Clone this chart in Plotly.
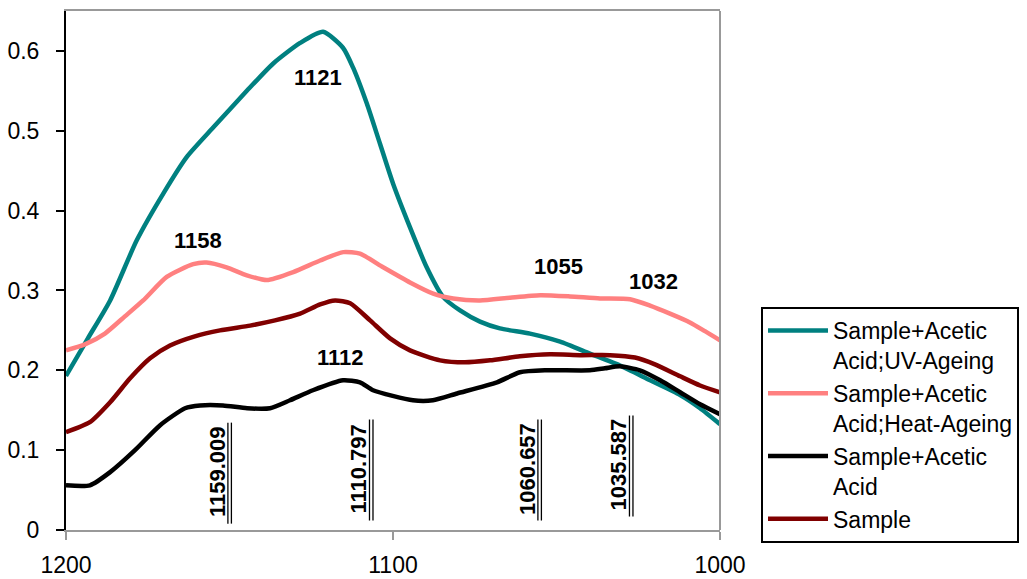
import plotly.graph_objects as go

# ---- data (wavenumber, absorbance) ----
uv_wn = [1200, 1193.3, 1186.5, 1178.4, 1170.3, 1163.1, 1155.0, 1144.7, 1136.7, 1128.4, 1121.4,
         1115.3, 1112.2, 1108.0, 1104.0, 1100.0, 1094.8, 1089.7, 1084.7, 1079.5, 1073.4, 1067.3,
         1058.1, 1048.9, 1039.8, 1030.6, 1021.4, 1012.2, 1006.1, 1000]
uv_abs = [0.193, 0.240, 0.2875, 0.3625, 0.421, 0.467, 0.504, 0.550, 0.584, 0.610, 0.624,
          0.604, 0.579, 0.534, 0.484, 0.434, 0.379, 0.329, 0.292, 0.275, 0.261, 0.2525,
          0.246, 0.236, 0.221, 0.206, 0.1875, 0.169, 0.1525, 0.1325]

heat_wn = [1200, 1194.2, 1188.1, 1182.0, 1176.4, 1169.2, 1161.1, 1157.0, 1150.9, 1144.7, 1138.6,
           1130.5, 1122.3, 1115.2, 1110.1, 1103.0, 1094.8, 1087.7, 1081.6, 1073.4, 1064.2, 1055.0,
           1045.9, 1036.7, 1027.5, 1021.4, 1015.3, 1009.2, 1004.6, 1000]
heat_abs = [0.225, 0.2325, 0.246, 0.2675, 0.2875, 0.317, 0.333, 0.335, 0.329, 0.319, 0.313,
            0.323, 0.3375, 0.348, 0.346, 0.329, 0.310, 0.296, 0.290, 0.2875, 0.291, 0.294,
            0.2925, 0.290, 0.289, 0.281, 0.271, 0.260, 0.249, 0.2375]

acid_wn = [1200, 1192.7, 1186.5, 1178.9, 1171.3, 1163.6, 1159.0, 1152.0, 1144.6, 1137.6, 1131.5,
           1124.5, 1115.3, 1110.1, 1106.1, 1093.9, 1087.8, 1080.4, 1068.2, 1061.2, 1053.5, 1039.8,
           1035.2, 1030.6, 1024.5, 1018.3, 1012.2, 1006.1, 1000]
acid_abs = [0.056, 0.056, 0.0725, 0.100, 0.131, 0.1525, 0.156, 0.156, 0.1525, 0.1525, 0.1625,
            0.175, 0.1875, 0.185, 0.175, 0.1625, 0.1625, 0.171, 0.185, 0.1975, 0.200, 0.200,
            0.2025, 0.205, 0.200, 0.1875, 0.1725, 0.1575, 0.145]

sample_wn = [1200, 1192.7, 1186.5, 1180.4, 1174.3, 1168.2, 1160.6, 1152.9, 1143.7, 1136.1, 1128.4,
             1122.3, 1117.7, 1113.1, 1107.0, 1100.9, 1094.8, 1085.6, 1078.0, 1070.3, 1061.2, 1052.0,
             1042.8, 1033.6, 1026.0, 1019.9, 1012.2, 1006.1, 1000]
sample_abs = [0.1225, 0.135, 0.160, 0.190, 0.215, 0.231, 0.2425, 0.250, 0.256, 0.2625, 0.271,
              0.2825, 0.2875, 0.284, 0.2625, 0.240, 0.225, 0.2125, 0.210, 0.2125, 0.2175, 0.220,
              0.219, 0.219, 0.216, 0.2075, 0.1925, 0.181, 0.1725]

series_names = ["Sample+Acetic<br>Acid;UV-Ageing", "Sample+Acetic<br>Acid;Heat-Ageing",
                "Sample+Acetic<br>Acid", "Sample"]
series_colors = ["#008080", "#FF8080", "#000000", "#800000"]

# peak labels (horizontal, bold)
peak_text = ["1121", "1158", "1112", "1055", "1032"]
peak_x = [1122.9, 1159.5, 1116.2, 1049.4, 1020.2]
peak_y = [0.567, 0.3625, 0.216, 0.330, 0.311]

# vertical peak labels (bold, double underlined)
vpeak_text = ["1159.009", "1110.797", "1060.657", "1035.587"]
vpeak_x = [1153.7, 1110.4, 1058.9, 1030.9]
vpeak_y = [0.0731, 0.077, 0.077, 0.082]

x_ticks = [1200, 1100, 1000]
y_ticks = [0, 0.1, 0.2, 0.3, 0.4, 0.5, 0.6]

FONT = "Liberation Sans, Arial, sans-serif"

fig = go.Figure()
for wn, ab, name, col in zip([uv_wn, heat_wn, acid_wn, sample_wn],
                             [uv_abs, heat_abs, acid_abs, sample_abs],
                             series_names, series_colors):
    fig.add_trace(go.Scatter(x=wn, y=ab, mode="lines", name=name,
                             line=dict(color=col, width=4.5, shape="spline", smoothing=0.6)))

annotations = []
for t, x, y in zip(peak_text, peak_x, peak_y):
    annotations.append(dict(x=x, y=y, xref="x", yref="y", text="<b>%s</b>" % t, showarrow=False,
                            font=dict(family=FONT, size=22, color="black")))
shapes = []
# pixel -> data conversion helpers for the double underline offsets
px_per_wn = 654 / 200.0
px_per_abs = 519 / 0.65
for t, x, y in zip(vpeak_text, vpeak_x, vpeak_y):
    annotations.append(dict(x=x, y=y, xref="x", yref="y", text="<b>%s</b>" % t, showarrow=False,
                            textangle=-90, font=dict(family=FONT, size=22, color="black")))
    for off in (10.5, 14.0):
        shapes.append(dict(type="line", xref="x", yref="y",
                           x0=x - off / px_per_wn, x1=x - off / px_per_wn,
                           y0=y - 52 / px_per_abs, y1=y + 49 / px_per_abs,
                           line=dict(color="black", width=1.3)))

# right border of plot area (grey)
shapes.append(dict(type="line", xref="paper", yref="paper", x0=1, x1=1, y0=0, y1=1,
                   line=dict(color="#999999", width=2)))

fig.update_layout(
    width=1027, height=579,
    margin=dict(l=66, r=307, t=11, b=49, autoexpand=False),
    paper_bgcolor="white", plot_bgcolor="white",
    font=dict(family=FONT, size=23, color="black"),
    showlegend=True,
    legend=dict(x=1.0627, y=0.4297, xanchor="left", yanchor="top",
                bordercolor="black", borderwidth=2, bgcolor="white",
                font=dict(family=FONT, size=23, color="black"),
                valign="top", tracegroupgap=0, itemwidth=60),
    xaxis=dict(range=[1200, 1000], tickvals=x_ticks, ticktext=[str(v) for v in x_ticks],
               showgrid=False, zeroline=False, showline=True, linecolor="#999999", linewidth=2,
               mirror=True, ticks="outside", ticklen=8, tickcolor="#999999", tickwidth=2,
               automargin=False,
               ticklabelstandoff=5, tickfont=dict(family=FONT, size=23, color="black")),
    yaxis=dict(range=[0, 0.65], tickvals=y_ticks, ticktext=[("%g" % v) for v in y_ticks],
               showgrid=False, zeroline=False, showline=True, linecolor="black", linewidth=2,
               ticks="outside", ticklen=8, tickcolor="black", tickwidth=2, automargin=False,
               ticklabelstandoff=12, tickfont=dict(family=FONT, size=23, color="black")),
    annotations=annotations,
    shapes=shapes,
)

fig.write_html("out.html")
